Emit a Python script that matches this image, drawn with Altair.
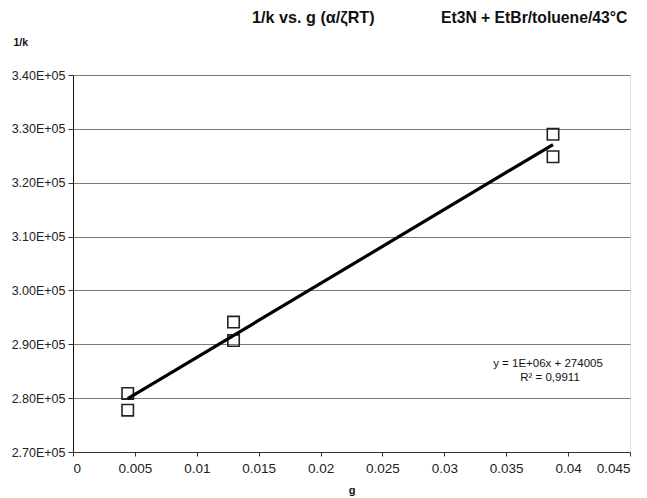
import altair as alt
import pandas as pd

g_values = [0.00442, 0.00442, 0.01297, 0.01297, 0.03878, 0.03878]
inv_k_values = [280870, 277770, 294120, 290690, 328980, 324820]
x_ticks = [0, 0.005, 0.01, 0.015, 0.02, 0.025, 0.03, 0.035, 0.04, 0.045]
y_ticks = [270000, 280000, 290000, 300000, 310000, 320000, 330000, 340000]
eq_lines = ["y = 1E+06x + 274005", "R² = 0,9911"]
title_parts = ["1/k vs. g (α/ζRT)", "Et3N + EtBr/toluene/43°C"]

df = pd.DataFrame({"g": g_values, "invk": inv_k_values})

FONT = "Liberation Sans"

x_enc = alt.X("g:Q", scale=alt.Scale(domain=[0, 0.045], nice=False, zero=False),
              axis=alt.Axis(values=x_ticks, title="g", grid=False,
                            labelExpr="datum.value == 0 ? '0' : format(datum.value, '.3~f')",
                            labelFontSize=13.5, labelColor="#222", labelPadding=5,
                            tickSize=4, tickColor="#333", domainColor="#333",
                            titleFontSize=11, titleFontWeight="bold", titlePadding=10,
                            titleColor="#111", labelFont=FONT, titleFont=FONT))
y_enc = alt.Y("invk:Q", scale=alt.Scale(domain=[270000, 340000], nice=False, zero=False),
              axis=alt.Axis(values=y_ticks, title="1/k",
                            labelExpr="format(datum.value/100000, '.2f') + 'E+05'",
                            labelFontSize=12.5, labelColor="#222", labelPadding=3,
                            tickSize=5, tickColor="#333", domainColor="#111",
                            gridColor="#7a7a7a", gridWidth=1,
                            titleAngle=0, titleAlign="left", titleBaseline="middle",
                            titleX=-60, titleY=-33, titleFontSize=10.5,
                            titleFontWeight="bold", titleColor="#111",
                            labelFont=FONT, titleFont=FONT))

points = alt.Chart(df).mark_point(shape="square", size=130, filled=False,
                                  stroke="#222", strokeWidth=1.6, opacity=1).encode(x=x_enc, y=y_enc)

trend = alt.Chart(df).transform_regression("g", "invk").mark_line(
    color="black", strokeWidth=3.2).encode(x="g:Q", y="invk:Q")


def label(text, x, y, size, weight="normal", align="center"):
    return alt.Chart(pd.DataFrame({"label": [text]})).mark_text(
        font=FONT, fontSize=size, fontWeight=weight, color="#111", align=align,
        baseline="middle").encode(text="label:N", x=alt.value(x), y=alt.value(y))


eq1 = label(eq_lines[0], 475, 289, 11.5)
eq2 = label(eq_lines[1], 477, 303, 11.5)
t1 = label(title_parts[0], 179, -57, 16.2, "bold", "left")
t2 = label(title_parts[1], 368, -57, 15.7, "bold", "left")

chart = alt.layer(points, trend, eq1, eq2, t1, t2).properties(
    width=557, height=377,
    padding={"left": 73, "top": 75, "right": 17, "bottom": 46},
    autosize=alt.AutoSizeParams(type="none"),
).configure_view(stroke="#6a6a6a", strokeWidth=1.2).configure(background="white")

chart.save("out.html", embed_options={"renderer": "svg", "actions": False})
